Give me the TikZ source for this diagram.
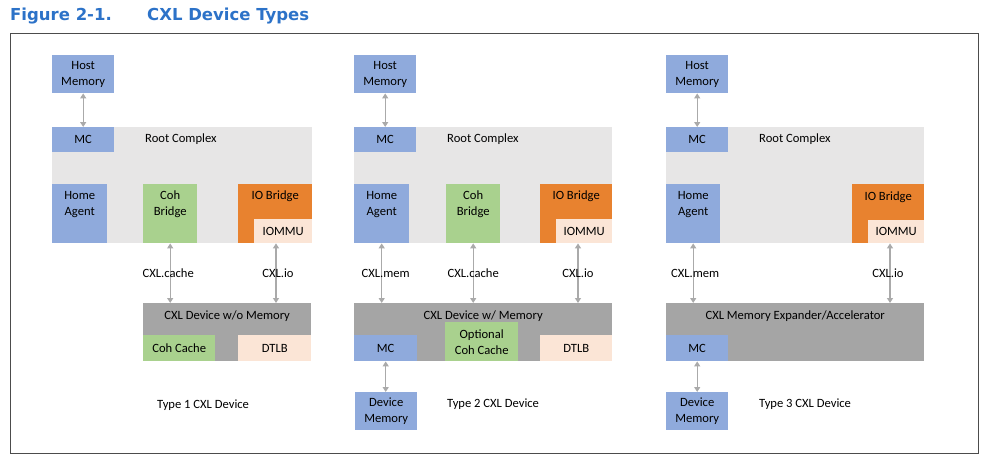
\documentclass[tikz,border=0pt]{standalone}
\usepackage{fontspec}
\setmainfont{Carlito}
\newfontfamily\titlefont{DejaVu Sans}
\usetikzlibrary{arrows.meta,positioning}

\definecolor{blu}{HTML}{8FAADC}
\definecolor{lgray}{HTML}{E7E6E6}
\definecolor{dgray}{HTML}{A5A5A5}
\definecolor{grn}{HTML}{A9D18E}
\definecolor{orng}{HTML}{E8822F}
\definecolor{peach}{HTML}{FBE5D6}
\definecolor{lnk}{HTML}{AAAAAA}
\definecolor{ttl}{HTML}{2C72C8}

\tikzset{
  blk/.style={rectangle, inner sep=0pt, anchor=north west, align=center,
    font=\fontsize{12.6}{16}\selectfont},
  txt/.style={inner sep=0pt, align=center, font=\fontsize{12.6}{16}\selectfont},
  link/.style={draw=lnk, line width=1.4pt, {Triangle[length=5pt,width=6pt]}-{Triangle[length=5pt,width=6pt]}}
}

\begin{document}
\begin{tikzpicture}[x=1pt,y=-1pt]
\useasboundingbox (0,0) rectangle (992,463);

%% title and frame
\node[anchor=base west, inner sep=0pt, text=ttl, font=\titlefont\bfseries\fontsize{16.5}{18}\selectfont] (fig) at (10,20) {Figure 2-1.};
\node[anchor=base west, inner sep=0pt, text=ttl, font=\titlefont\bfseries\fontsize{16.5}{18}\selectfont] (ttl) at (147,20) {CXL Device Types};
\draw[gray!60!black, line width=1pt] (10,33) rectangle (978,453);

%%% Type 1
\node[blk, fill=blu, minimum width=62, minimum height=38] (hm1) at (52,55) {Host\\Memory};
\node[blk, fill=lgray, minimum width=260, minimum height=116] (rc1) at (52,127) {};
\node[blk, fill=blu, minimum width=62, minimum height=25] (mc1) at (52,127) {MC};
\node[txt, anchor=west] (rct1) at (145,139) {Root Complex};
\node[blk, fill=blu, minimum width=55, minimum height=59] (ha1) at (52,184) {};
\node[txt, below=7pt of ha1.north] (hat1) {Home\\Agent};
\node[blk, fill=grn, minimum width=54, minimum height=59] (cb1) at (143,184) {};
\node[txt, below=7pt of cb1.north] (cbt1) {Coh\\Bridge};
\node[blk, fill=orng, minimum width=74, minimum height=59] (iob1) at (238,184) {};
\node[txt, below=7pt of iob1.north] (iobt1) {IO Bridge};
\node[blk, fill=peach, minimum width=58, minimum height=24] (iommu1) at (254,219) {IOMMU};

\node[blk, fill=dgray, minimum width=168, minimum height=58] (dev1) at (143,303) {};
\node[txt, below=8pt of dev1.north] (devt1) {CXL Device w/o Memory};
\node[blk, fill=grn, minimum width=72, minimum height=26] (cc1) at (143,335) {Coh Cache};
\node[blk, fill=peach, minimum width=73, minimum height=26] (tlb1) at (238,335) {DTLB};
\node[txt, anchor=west] (typ1) at (157,405) {Type 1 CXL Device};

\coordinate (io1) at (276,0);
\draw[link] (hm1.south -| mc1.north) -- (mc1.north);
\draw[link] (cb1.south) -- (cb1.south |- dev1.north) node[txt, midway, xshift=-2pt] (l1a) {CXL.cache};
\draw[link] (io1 |- iommu1.south) -- (io1 |- dev1.north) node[txt, midway, xshift=2pt] (l1b) {CXL.io};

%%% Type 2
\node[blk, fill=blu, minimum width=62, minimum height=38] (hm2) at (354,55) {Host\\Memory};
\node[blk, fill=lgray, minimum width=258, minimum height=116] (rc2) at (354,127) {};
\node[blk, fill=blu, minimum width=62, minimum height=25] (mc2) at (354,127) {MC};
\node[txt, anchor=west] (rct2) at (447,139) {Root Complex};
\node[blk, fill=blu, minimum width=55, minimum height=59] (ha2) at (354,184) {};
\node[txt, below=7pt of ha2.north] (hat2) {Home\\Agent};
\node[blk, fill=grn, minimum width=54, minimum height=59] (cb2) at (446,184) {};
\node[txt, below=7pt of cb2.north] (cbt2) {Coh\\Bridge};
\node[blk, fill=orng, minimum width=72, minimum height=59] (iob2) at (540,184) {};
\node[txt, below=7pt of iob2.north] (iobt2) {IO Bridge};
\node[blk, fill=peach, minimum width=56, minimum height=24] (iommu2) at (556,219) {IOMMU};

\node[blk, fill=dgray, minimum width=258, minimum height=58] (dev2) at (354,303) {};
\node[txt, below=8pt of dev2.north] (devt2) {CXL Device w/ Memory};
\node[blk, fill=blu, minimum width=63, minimum height=26] (dmc2) at (354,335) {MC};
\node[blk, fill=grn, minimum width=73, minimum height=39] (cc2) at (445,322) {Optional\\Coh Cache};
\node[blk, fill=peach, minimum width=72, minimum height=26] (tlb2) at (540,335) {DTLB};
\node[blk, fill=blu, minimum width=62, minimum height=38] (dm2) at (355,392) {Device\\Memory};
\node[txt, anchor=west] (typ2) at (447,404) {Type 2 CXL Device};

\coordinate (io2) at (578,0);
\draw[link] (hm2.south -| mc2.north) -- (mc2.north);
\draw[link] (ha2.south) -- (ha2.south |- dev2.north) node[txt, midway, xshift=4pt] (l2a) {CXL.mem};
\draw[link] (cb2.south) -- (cb2.south |- dev2.north) node[txt, midway] (l2b) {CXL.cache};
\draw[link] (io2 |- iommu2.south) -- (io2 |- dev2.north) node[txt, midway] (l2c) {CXL.io};
\draw[link] (dmc2.south) -- (dm2.north -| dmc2.south);

%%% Type 3
\node[blk, fill=blu, minimum width=62, minimum height=38] (hm3) at (666,55) {Host\\Memory};
\node[blk, fill=lgray, minimum width=258, minimum height=116] (rc3) at (666,127) {};
\node[blk, fill=blu, minimum width=62, minimum height=25] (mc3) at (666,127) {MC};
\node[txt, anchor=west] (rct3) at (759,139) {Root Complex};
\node[blk, fill=blu, minimum width=54, minimum height=59] (ha3) at (666,184) {};
\node[txt, below=7pt of ha3.north] (hat3) {Home\\Agent};
\node[blk, fill=orng, minimum width=72, minimum height=59] (iob3) at (852,184) {};
\node[txt, below=8pt of iob3.north] (iobt3) {IO Bridge};
\node[blk, fill=peach, minimum width=56, minimum height=23] (iommu3) at (868,220) {IOMMU};

\node[blk, fill=dgray, minimum width=258, minimum height=58] (dev3) at (666,303) {};
\node[txt, below=8pt of dev3.north] (devt3) {CXL Memory Expander/Accelerator};
\node[blk, fill=blu, minimum width=62, minimum height=26] (dmc3) at (666,335) {MC};
\node[blk, fill=blu, minimum width=62, minimum height=38] (dm3) at (666,392) {Device\\Memory};
\node[txt, anchor=west] (typ3) at (759,404) {Type 3 CXL Device};

\coordinate (io3) at (890,0);
\draw[link] (hm3.south -| mc3.north) -- (mc3.north);
\draw[link] (ha3.south) -- (ha3.south |- dev3.north) node[txt, midway, xshift=2pt] (l3a) {CXL.mem};
\draw[link] (io3 |- iommu3.south) -- (io3 |- dev3.north) node[txt, midway, xshift=-2pt] (l3b) {CXL.io};
\draw[link] (dmc3.south) -- (dm3.north -| dmc3.south);

\end{tikzpicture}
\end{document}
